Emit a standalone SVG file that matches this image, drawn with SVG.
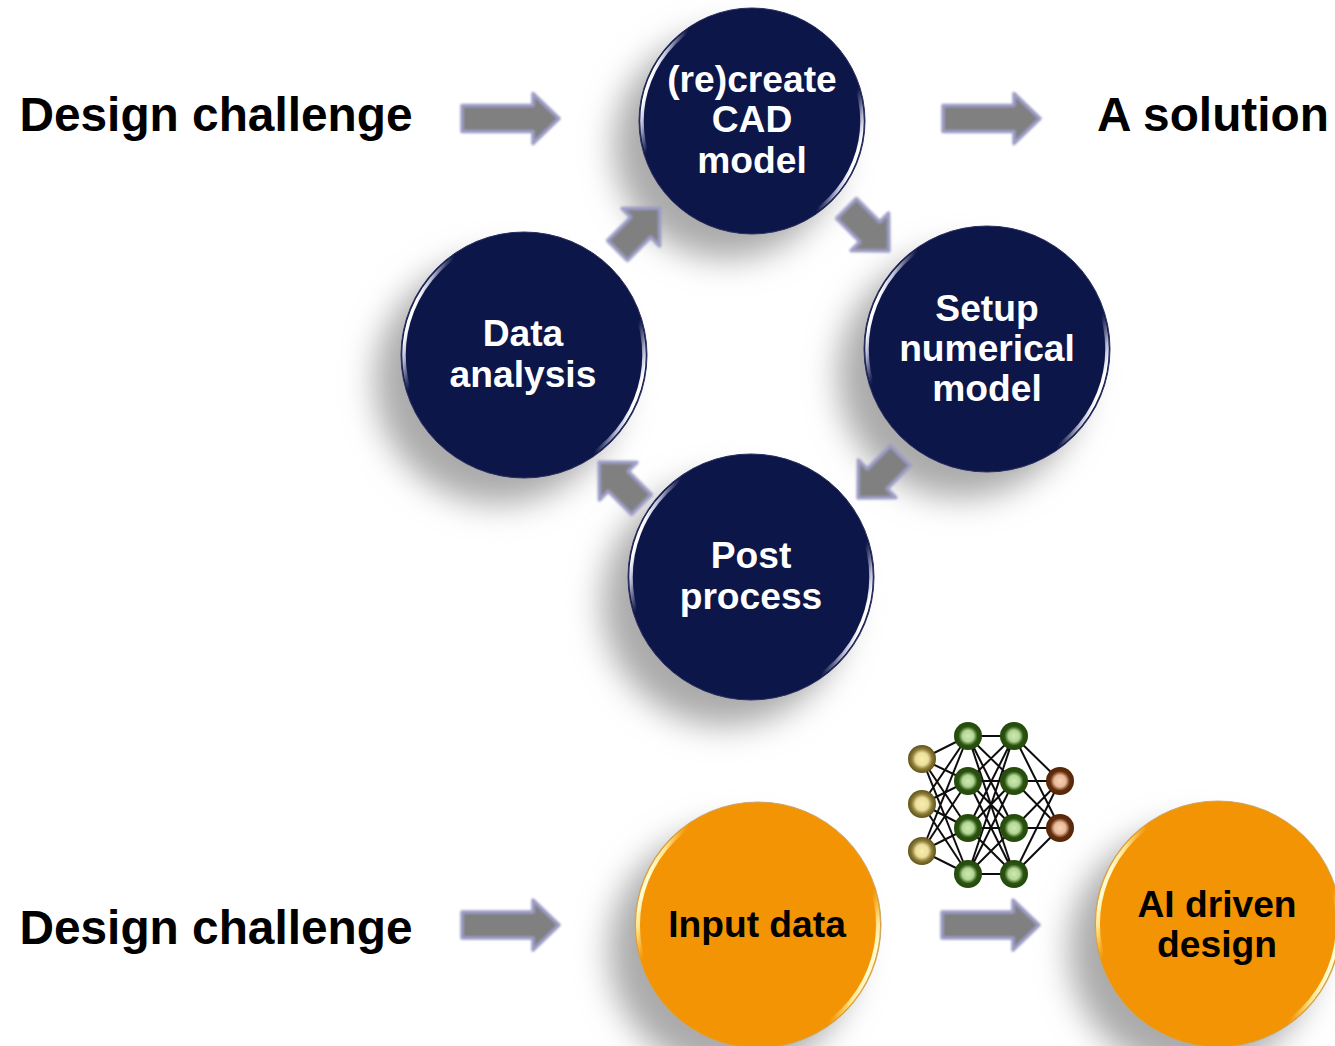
<svg xmlns="http://www.w3.org/2000/svg" width="1335" height="1046" viewBox="0 0 1335 1046">
<defs>
<filter id="shadowBlur" x="-30%" y="-30%" width="160%" height="160%"><feGaussianBlur stdDeviation="16"/></filter>
<filter id="soft" x="-20%" y="-20%" width="140%" height="140%"><feGaussianBlur stdDeviation="0.9"/></filter>
<filter id="rimSoft" x="-5%" y="-5%" width="110%" height="110%"><feGaussianBlur stdDeviation="0.7"/></filter>
<filter id="netSoft" x="-5%" y="-5%" width="110%" height="110%"><feGaussianBlur stdDeviation="0.5"/></filter>
<linearGradient id="rim" x1="0.03" y1="0.34" x2="0.97" y2="0.66">
<stop offset="0" stop-color="#fff" stop-opacity="1"/><stop offset="0.03" stop-color="#dfe2f5" stop-opacity="0.8"/><stop offset="0.09" stop-color="#aab" stop-opacity="0"/>
<stop offset="0.91" stop-color="#aab" stop-opacity="0"/><stop offset="0.97" stop-color="#dfe2f5" stop-opacity="0.8"/><stop offset="1" stop-color="#fff" stop-opacity="1"/>
</linearGradient>
<linearGradient id="rimGold" x1="0.03" y1="0.34" x2="0.97" y2="0.66">
<stop offset="0" stop-color="#fffbd0" stop-opacity="1"/><stop offset="0.03" stop-color="#fff0a0" stop-opacity="0.85"/><stop offset="0.09" stop-color="#ffd060" stop-opacity="0"/>
<stop offset="0.91" stop-color="#ffd060" stop-opacity="0"/><stop offset="0.97" stop-color="#fff0a0" stop-opacity="0.85"/><stop offset="1" stop-color="#fffbd0" stop-opacity="1"/>
</linearGradient>
<radialGradient id="gIn"><stop offset="0" stop-color="#f8eeb0"/><stop offset="0.45" stop-color="#ecdf9c"/><stop offset="0.72" stop-color="#8d7d38"/><stop offset="1" stop-color="#5f5218"/></radialGradient>
<radialGradient id="gHid"><stop offset="0" stop-color="#cfeab0"/><stop offset="0.4" stop-color="#b2d696"/><stop offset="0.68" stop-color="#2c5410"/><stop offset="1" stop-color="#234808"/></radialGradient>
<radialGradient id="gOut"><stop offset="0" stop-color="#f8d4b8"/><stop offset="0.42" stop-color="#e8b898"/><stop offset="0.7" stop-color="#622e0c"/><stop offset="1" stop-color="#552404"/></radialGradient>
<path id="bigArrow" d="M0 -13H71V-25L97 0L71 25V13H0Z"/>
<path id="smallArrow" d="M0 -14H33V-26.500L60 0L33 26.500V14H0Z"/>
</defs>
<style>
text{font-family:"Liberation Sans",Arial,sans-serif;font-weight:700;text-anchor:middle}
.head{font-size:47.800px;fill:#000}
.cw{font-size:37.200px;fill:#fff}
.cb{font-size:37.200px;fill:#000}
.shadow{fill:#aaa;filter:url(#shadowBlur)}
.navy{fill:#0d1649;stroke:#2a3060;stroke-width:1}
.gold{fill:#f29403;stroke:#c9a870;stroke-width:1}
.rimN{fill:none;stroke:url(#rim);stroke-width:3.500;filter:url(#rimSoft)}
.rimG{fill:none;stroke:url(#rimGold);stroke-width:4;filter:url(#rimSoft)}
.arrow{fill:#808080;stroke:#9c9cc6;stroke-width:3.500;stroke-linejoin:round;filter:url(#soft)}
.edge{stroke:#111;stroke-width:2;fill:none}
</style>
<rect width="1335" height="1046" fill="#fff"/>

<g id="node-cad">
<circle class="shadow" cx="727" cy="146" r="113"/>
<circle class="navy" cx="752" cy="121" r="113"/>
<circle class="rimN" cx="752" cy="121" r="110"/>
<text class="cw" x="752" y="92">(re)create</text><text class="cw" x="752" y="132">CAD</text><text class="cw" x="752" y="173">model</text>
</g>
<g id="node-setup">
<circle class="shadow" cx="961" cy="375" r="123"/>
<circle class="navy" cx="987" cy="349" r="123"/>
<circle class="rimN" cx="987" cy="349" r="120"/>
<text class="cw" x="987" y="321">Setup</text><text class="cw" x="987" y="361">numerical</text><text class="cw" x="987" y="401">model</text>
</g>
<g id="node-post">
<circle class="shadow" cx="725" cy="603" r="123"/>
<circle class="navy" cx="751" cy="577" r="123"/>
<circle class="rimN" cx="751" cy="577" r="120"/>
<text class="cw" x="751" y="568">Post</text><text class="cw" x="751" y="609">process</text>
</g>
<g id="node-data">
<circle class="shadow" cx="498" cy="381" r="123"/>
<circle class="navy" cx="524" cy="355" r="123"/>
<circle class="rimN" cx="524" cy="355" r="120"/>
<text class="cw" x="523" y="346">Data</text><text class="cw" x="523" y="387">analysis</text>
</g>
<g id="node-input">
<circle class="shadow" cx="732" cy="951" r="123"/>
<circle class="gold" cx="758" cy="925" r="123"/>
<circle class="rimG" cx="758" cy="925" r="120"/>
<text class="cb" x="757" y="937">Input data</text>
</g>
<g id="node-ai">
<circle class="shadow" cx="1192" cy="950" r="123"/>
<circle class="gold" cx="1218" cy="924" r="123"/>
<circle class="rimG" cx="1218" cy="924" r="120"/>
<text class="cb" x="1217" y="917">AI driven</text><text class="cb" x="1217" y="957">design</text>
</g>

<g id="label-challenge-top"><text class="head" x="216" y="131">Design challenge</text></g>
<g id="label-solution"><text class="head" x="1213" y="131">A solution</text></g>
<g id="label-challenge-bottom"><text class="head" x="216" y="944">Design challenge</text></g>

<g id="connectors">
<use href="#bigArrow" class="arrow" transform="translate(462 118.500)"/>
<use href="#bigArrow" class="arrow" transform="translate(943 118.500)"/>
<use href="#bigArrow" class="arrow" transform="translate(462 925)"/>
<use href="#bigArrow" class="arrow" transform="translate(942 925)"/>
<use href="#smallArrow" class="arrow" transform="translate(617.500 250.500) rotate(-45)"/>
<use href="#smallArrow" class="arrow" transform="translate(846.500 208.500) rotate(45)"/>
<use href="#smallArrow" class="arrow" transform="translate(900.500 455.500) rotate(135)"/>
<use href="#smallArrow" class="arrow" transform="translate(641.500 504.500) rotate(-135)"/>
</g>

<g id="neural-net">
<g id="net-edges" class="edge" filter="url(#netSoft)">
<path d="M922 759L968 736M922 759L968 781M922 759L968 828M922 759L968 874M922 804L968 736M922 804L968 781M922 804L968 828M922 804L968 874M922 851L968 736M922 851L968 781M922 851L968 828M922 851L968 874"/>
<path d="M968 736L1014 736M968 736L1014 781M968 736L1014 828M968 736L1014 874M968 781L1014 736M968 781L1014 781M968 781L1014 828M968 781L1014 874M968 828L1014 736M968 828L1014 781M968 828L1014 828M968 828L1014 874M968 874L1014 736M968 874L1014 781M968 874L1014 828M968 874L1014 874"/>
<path d="M1014 736L1060 781M1014 736L1060 828M1014 781L1060 781M1014 781L1060 828M1014 828L1060 781M1014 828L1060 828M1014 874L1060 781M1014 874L1060 828"/>
</g>
<g id="net-input" fill="url(#gIn)" filter="url(#netSoft)"><circle cx="922" cy="759" r="14"/><circle cx="922" cy="804" r="14"/><circle cx="922" cy="851" r="14"/></g>
<g id="net-hidden" fill="url(#gHid)" filter="url(#netSoft)"><circle cx="968" cy="736" r="14"/><circle cx="968" cy="781" r="14"/><circle cx="968" cy="828" r="14"/><circle cx="968" cy="874" r="14"/><circle cx="1014" cy="736" r="14"/><circle cx="1014" cy="781" r="14"/><circle cx="1014" cy="828" r="14"/><circle cx="1014" cy="874" r="14"/></g>
<g id="net-output" fill="url(#gOut)" filter="url(#netSoft)"><circle cx="1060" cy="781" r="14"/><circle cx="1060" cy="828" r="14"/></g>
</g>
</svg>
